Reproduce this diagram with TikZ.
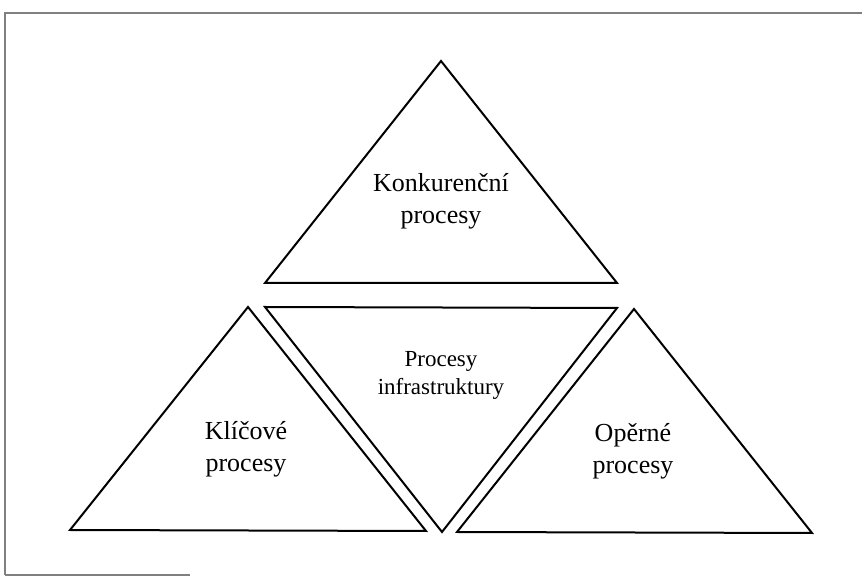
\documentclass[tikz,border=0pt]{standalone}
\usepackage{fontspec}
\setmainfont{Liberation Serif}
\usetikzlibrary{positioning}

\tikzset{
	tri/.style={line width=1pt, line join=miter},
	frame/.style={gray, line width=0.6pt},
	label/.style={align=center, font=\fontsize{13}{16}\selectfont}
}

\begin{document}
\begin{tikzpicture}[x=0.5pt,y=-0.5pt]
		\useasboundingbox (0,0) rectangle (862,576);
		% ramecek
		\draw[frame] (5,575) -- (5,13) -- (862,13);
		\draw[frame] (5,575) -- (190,575);
		% trojuhelniky
		\draw[tri] (265,283) -- (441,61) -- (617,283) -- cycle;
		\draw[tri] (265,307) -- (617,308) -- (442,532) -- cycle;
		\draw[tri] (70,530) -- (248,307) -- (426,531) -- cycle;
		\draw[tri] (457,532) -- (634,309) -- (812,533) -- cycle;
		% popisky
		\node[label] (konk) at (441,201) {Konkurenční\\procesy};
		\node[label, font=\fontsize{11.5}{14}\selectfont] (infra) at (441,375) {Procesy\\infrastruktury};
		\node[label] (klic) at (246,449) {Klíčové\\procesy};
		\node[label] (oper) at (633,451) {Opěrné\\procesy};
	\end{tikzpicture}
\end{document}
